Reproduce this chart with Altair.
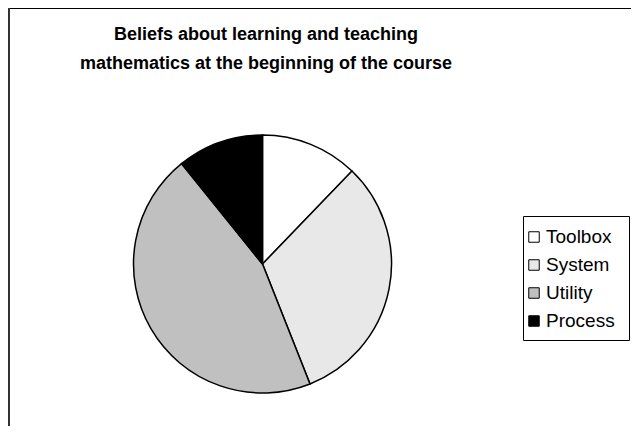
import altair as alt
import pandas as pd

# ---- data ----
categories = ["Toolbox", "System", "Utility", "Process"]
shares = [12.2, 31.8, 45.2, 10.8]          # percent of the pie
fills = ["#ffffff", "#e8e8e8", "#c0c0c0", "#000000"]
title_lines = ["Beliefs about learning and teaching",
               "mathematics at the beginning of the course"]

W, H = 623, 418
FONT = "Liberation Sans"

pie_df = pd.DataFrame({"cat": categories, "value": shares,
                       "ord": list(range(len(categories)))})
one = pd.DataFrame({"k": [0]})

color_scale = alt.Scale(domain=categories, range=fills)

pie = alt.Chart(pie_df).mark_arc(
    radius=129, stroke="black", strokeWidth=1.5
).encode(
    theta=alt.Theta("value:Q", stack=True),
    order=alt.Order("ord:Q"),
    color=alt.Color("cat:N", scale=color_scale, legend=None),
    x=alt.value(254.5), y=alt.value(256),
)

title = alt.Chart(one).mark_text(
    text=title_lines, font=FONT, fontSize=18, fontWeight="bold",
    align="center", baseline="alphabetic", lineHeight=29, color="black"
).encode(x=alt.value(258), y=alt.value(32))

frame_top = alt.Chart(one).mark_rule(color="black", strokeWidth=1.2).encode(
    x=alt.value(0), x2=alt.value(W), y=alt.value(0.5))
frame_left = alt.Chart(one).mark_rule(color="#333333", strokeWidth=2).encode(
    x=alt.value(1), y=alt.value(0), y2=alt.value(H))

# legend box drawn as four rules
bx0, bx1, by0, by1 = 515.5, 621.5, 208.5, 332.5
box_style = dict(color="black", strokeWidth=1)
box = [
    alt.Chart(one).mark_rule(**box_style).encode(
        x=alt.value(bx0), x2=alt.value(bx1), y=alt.value(by0)),
    alt.Chart(one).mark_rule(**box_style).encode(
        x=alt.value(bx0), x2=alt.value(bx1), y=alt.value(by1)),
    alt.Chart(one).mark_rule(**box_style).encode(
        x=alt.value(bx0), y=alt.value(by0), y2=alt.value(by1)),
    alt.Chart(one).mark_rule(**box_style).encode(
        x=alt.value(bx1), y=alt.value(by0), y2=alt.value(by1)),
]

leg_y = alt.Y("cat:N", sort=categories, axis=None,
              scale=alt.Scale(range=[229, 313], padding=0))

legend_sym = alt.Chart(pie_df).mark_square(
    size=110, stroke="black", strokeWidth=1, opacity=1
).encode(
    x=alt.value(526), y=leg_y,
    color=alt.Color("cat:N", scale=color_scale, legend=None),
)

legend_txt = alt.Chart(pie_df).mark_text(
    font=FONT, fontSize=19, align="left", baseline="middle", color="black"
).encode(x=alt.value(538), y=leg_y, text="cat:N")

chart = alt.layer(
    frame_top, frame_left, title, pie, *box, legend_sym, legend_txt
).properties(
    width=W, height=H, padding=0,
    autosize=alt.AutoSizeParams(type="none"),
    background="white",
).configure_view(stroke=None)

chart.save("out.html", embed_options={"renderer": "svg", "actions": False})
